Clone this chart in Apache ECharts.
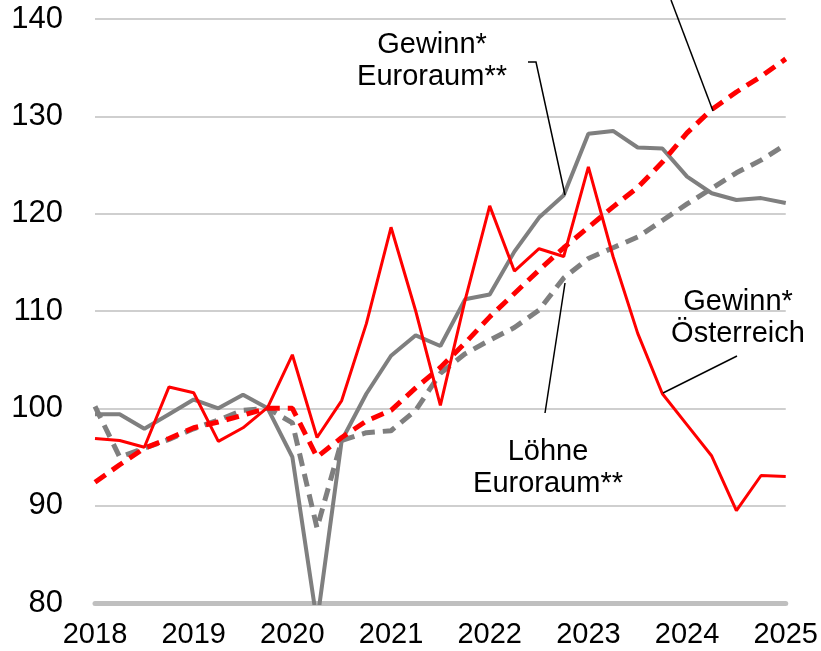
<!DOCTYPE html>
<html>
<head>
<meta charset="utf-8">
<script src="https://cdn.jsdelivr.net/npm/echarts@6/dist/echarts.min.js"></script>
<style>
  html, body { margin: 0; padding: 0; background: #fff; }
  #chart { width: 821px; height: 651px; }
</style>
</head>
<body>
<div id="chart"></div>
<script>
// Quartale 2018 Q1 bis 2025 Q1
const quarters = [
  "2018 Q1", "2018 Q2", "2018 Q3", "2018 Q4",
  "2019 Q1", "2019 Q2", "2019 Q3", "2019 Q4",
  "2020 Q1", "2020 Q2", "2020 Q3", "2020 Q4",
  "2021 Q1", "2021 Q2", "2021 Q3", "2021 Q4",
  "2022 Q1", "2022 Q2", "2022 Q3", "2022 Q4",
  "2023 Q1", "2023 Q2", "2023 Q3", "2023 Q4",
  "2024 Q1", "2024 Q2", "2024 Q3", "2024 Q4",
  "2025 Q1"
];
const yTicks = [80, 90, 100, 110, 120, 130, 140];

// Gewinn* Österreich (rot, durchgezogen)
const gewinnAT = [96.9, 96.7, 96.0, 102.2, 101.6, 96.6, 98.0, 100.1,
  105.5, 97.0, 100.8, 108.7, 118.6, 110.0, 100.3, 111.1,
  120.8, 114.1, 116.4, 115.6, 124.8, 115.6, 107.7, 101.5,
  98.3, 95.1, 89.5, 93.1, 93.0];
// Löhne Österreich (rot, gestrichelt)
const loehneAT = [92.4, 94.2, 95.9, 96.9, 98.0, 98.6, 99.3, 100.0,
  100.0, 95.0, 97.0, 98.7, 99.8, 102.1, 104.2, 106.7,
  109.4, 111.8, 114.2, 116.5, 118.6, 120.7, 122.7, 125.3,
  128.3, 130.7, 132.5, 134.1, 135.9];
// Gewinn* Euroraum** (grau, durchgezogen)
const gewinnEA = [99.4, 99.4, 97.9, 99.4, 100.9, 100.0, 101.4, 100.0,
  95.0, 78.0, 96.7, 101.5, 105.4, 107.5, 106.4, 111.2,
  111.7, 116.1, 119.6, 121.9, 128.2, 128.5, 126.8, 126.7,
  123.8, 122.1, 121.4, 121.6, 121.1];
// Löhne Euroraum** (grau, gestrichelt)
const loehneEA = [100.2, 95.0, 95.9, 96.8, 97.9, 98.8, 99.8, 100.0,
  98.5, 87.7, 96.7, 97.5, 97.7, 99.8, 103.6, 105.6,
  107.0, 108.3, 110.1, 113.4, 115.4, 116.5, 117.6, 119.3,
  121.0, 122.6, 124.2, 125.5, 127.1];

const RED = "#ff0000";
const GREY = "#7f7f7f";
const FONT = "'Liberation Sans', Arial, sans-serif";

const chart = echarts.init(document.getElementById("chart"));

// Beschriftung mit Führungslinie
function label(lines, x, y) {
  return lines.map((t, i) => ({
    type: "text",
    x: x,
    y: y + i * 32,
    style: {
      text: t,
      fill: "#000",
      font: "29px " + FONT,
      textAlign: "center",
      textVerticalAlign: "middle",
    },
  }));
}
function leader(points) {
  return {
    type: "polyline",
    shape: { points: points },
    style: { stroke: "#000", lineWidth: 1.5, fill: null },
    z: 10,
  };
}

const option = {
  animation: false,
  backgroundColor: "#fff",
  grid: { left: 95, right: 34, top: 19, bottom: 48 },
  xAxis: {
    type: "category",
    data: quarters,
    boundaryGap: false,
    axisLine: { lineStyle: { color: "#bfbfbf", width: 5 } },
    axisTick: { show: false },
    axisLabel: {
      interval: 3,
      formatter: (v) => v.slice(0, 4),
      color: "#000",
      fontSize: 29,
      fontFamily: FONT,
      margin: 17,
    },
    splitLine: { show: false },
  },
  yAxis: {
    type: "value",
    min: yTicks[0],
    max: yTicks[yTicks.length - 1],
    interval: 10,
    axisLine: { show: false },
    axisTick: { show: false },
    axisLabel: {
      color: "#000",
      fontSize: 31,
      fontFamily: FONT,
      margin: 32,
    },
    splitLine: { lineStyle: { color: "#bfbfbf", width: 1.5 } },
  },
  series: [
    {
      name: "Löhne Euroraum",
      type: "line",
      data: loehneEA,
      symbol: "none",
      clip: true,
      lineStyle: { color: GREY, width: 5, type: [13, 8] },
    },
    {
      name: "Gewinn Euroraum",
      type: "line",
      data: gewinnEA,
      symbol: "none",
      clip: true,
      lineStyle: { color: GREY, width: 4 },
    },
    {
      name: "Gewinn Österreich",
      type: "line",
      data: gewinnAT,
      symbol: "none",
      clip: true,
      lineStyle: { color: RED, width: 3 },
    },
    {
      name: "Löhne Österreich",
      type: "line",
      data: loehneAT,
      symbol: "none",
      clip: true,
      lineStyle: { color: RED, width: 5, type: [13, 8] },
    },
  ],
  graphic: [
    ...label(["Gewinn*", "Euroraum**"], 432, 45),
    leader([[528, 62], [536, 62], [565, 195]]),
    ...label(["Gewinn*", "Österreich"], 738, 302),
    leader([[737, 356], [663, 393]]),
    ...label(["Löhne", "Euroraum**"], 548, 452),
    leader([[545, 413], [565, 283]]),
    leader([[671, 0], [713, 111]]),
  ],
};

chart.setOption(option);
</script>
</body>
</html>
